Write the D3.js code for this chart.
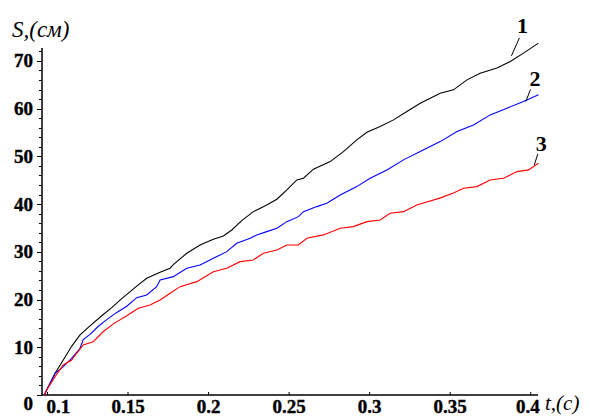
<!DOCTYPE html>
<html>
<head>
<meta charset="utf-8">
<script src="https://cdn.jsdelivr.net/npm/d3@7/dist/d3.min.js"></script>
<style>
  body { margin: 0; background: #fff; }
  svg { display: block; }
  .tick-label { font-family: "Liberation Serif", "Times New Roman", serif; font-weight: bold; font-size: 19px; fill: #000; stroke: #000; stroke-width: 0.4px; }
  .axis-title { font-family: "Liberation Serif", "Times New Roman", serif; font-style: italic; fill: #000; }
  .curve-label { font-family: "Liberation Serif", "Times New Roman", serif; font-weight: bold; font-size: 22px; fill: #000; }
</style>
</head>
<body>
<svg id="chart" width="590" height="417"></svg>
<script>
// curve 1 (black)
var t1 = [0.098, 0.0995, 0.1047, 0.1098, 0.115, 0.1202, 0.1264, 0.1337, 0.1399, 0.1461, 0.1554, 0.1616, 0.1699,
  0.1761, 0.1781, 0.1865, 0.1947, 0.203, 0.2092, 0.2144, 0.2206, 0.2278, 0.2361, 0.2424, 0.2486, 0.2548,
  0.2589, 0.2651, 0.2755, 0.2837, 0.292, 0.2983, 0.3065, 0.3148, 0.3231, 0.3314, 0.3438, 0.352, 0.3604,
  0.3686, 0.379, 0.3873, 0.3955, 0.4048];
var s1 = [0, 1.05, 4.55, 7.34, 10.2, 12.6, 14.5, 16.6, 18.3, 20.2, 22.8, 24.46, 25.7,
  26.56, 27.3, 29.7, 31.44, 32.63, 33.33, 34.58, 36.53, 38.42, 39.82, 41.02, 42.97, 45.06,
  45.42, 47.31, 48.9, 51.0, 53.45, 55.06, 56.24, 57.64, 59.38, 61.14, 63.24, 63.93, 66.02,
  67.43, 68.52, 69.86, 71.62, 73.72];

// curve 2 (blue)
var t2 = [0.098, 0.0995, 0.1047, 0.1098, 0.115, 0.1202, 0.1222, 0.1264, 0.1316, 0.1368, 0.143, 0.1492, 0.1554,
  0.1616, 0.1678, 0.1699, 0.1781, 0.1865, 0.1947, 0.203, 0.2113, 0.2175, 0.2258, 0.2299, 0.2361, 0.2424,
  0.2486, 0.2558, 0.2589, 0.2672, 0.2734, 0.2817, 0.292, 0.3003, 0.3107, 0.321, 0.3314, 0.3438, 0.3542,
  0.3645, 0.3748, 0.3852, 0.3955, 0.4048];
var s2 = [0, 1.05, 4.55, 5.93, 7.69, 9.79, 11.6, 12.7, 14.4, 15.8, 17.3, 18.6, 20.4,
  20.96, 22.7, 24.1, 24.8, 26.56, 27.25, 28.65, 30.04, 31.8, 32.84, 33.54, 34.23, 34.94,
  36.32, 37.37, 38.42, 39.47, 40.18, 41.92, 43.66, 45.42, 47.16, 49.26, 51.0, 53.09, 55.19,
  56.59, 58.69, 60.09, 61.48, 62.88];

// curve 3 (red)
var t3 = [0.098, 0.0995, 0.1047, 0.1098, 0.115, 0.1181, 0.1222, 0.1284, 0.1347, 0.1409, 0.1492, 0.1564, 0.1637,
  0.1699, 0.1761, 0.1823, 0.1927, 0.203, 0.2113, 0.2196, 0.2278, 0.234, 0.2424, 0.2486, 0.2558, 0.261,
  0.2713, 0.2817, 0.2899, 0.2983, 0.3065, 0.3127, 0.321, 0.3293, 0.344, 0.352, 0.3583, 0.3666, 0.3748,
  0.3831, 0.3915, 0.3986, 0.4048];
var s3 = [0, 1.05, 3.84, 6.29, 7.34, 8.74, 10.48, 11.17, 13.3, 14.9, 16.6, 18.17, 18.86,
  19.91, 21.32, 22.7, 23.75, 25.84, 26.56, 27.94, 28.3, 29.7, 30.39, 31.44, 31.44, 32.84,
  33.54, 34.94, 35.28, 36.32, 36.68, 38.08, 38.42, 39.82, 41.3, 42.3, 43.32, 43.66, 45.06,
  45.42, 46.8, 47.16, 48.56];

var xTicks = [0.1, 0.15, 0.2, 0.25, 0.3, 0.35, 0.4];
var yTicks = [0, 10, 20, 30, 40, 50, 60, 70];
var curveNames = ['1', '2', '3'];
var curveColors = ['#000000', '#0000ff', '#ff0000'];

var svg = d3.select('#chart');
var x = d3.scaleLinear().domain([0.0966, 0.4045]).range([42, 538]);
var y = d3.scaleLinear().domain([0, 72.7]).range([395, 48]);

var series = [d3.zip(t1, s1), d3.zip(t2, s2), d3.zip(t3, s3)];

// axes
svg.append('line')
  .attr('x1', x.range()[0]).attr('x2', x.range()[0])
  .attr('y1', y(0)).attr('y2', y.range()[1])
  .attr('stroke', '#000').attr('stroke-width', 1.5);
svg.append('line')
  .attr('x1', x.range()[0]).attr('x2', x.range()[1])
  .attr('y1', y(0)).attr('y2', y(0))
  .attr('stroke', '#000').attr('stroke-width', 1.5);

// y minor + major ticks
var minor = d3.range(0, 73, 2);
svg.selectAll('.ytick').data(minor).enter().append('line')
  .attr('x1', function(d) { return x.range()[0] - (d % 10 === 0 ? 5 : 3); })
  .attr('x2', x.range()[0])
  .attr('y1', function(d) { return Math.round(y(d)) + 0.5; })
  .attr('y2', function(d) { return Math.round(y(d)) + 0.5; })
  .attr('stroke', '#000').attr('stroke-width', 1);

svg.selectAll('.ylab').data(yTicks).enter().append('text')
  .attr('class', 'tick-label')
  .attr('text-anchor', 'end')
  .attr('x', 33)
  .attr('y', function(d) { return d === 0 ? y(d) + 15 : y(d) + 6.5; })
  .text(function(d) { return d; });

// x ticks
svg.selectAll('.xtick').data(xTicks).enter().append('line')
  .attr('x1', function(d) { return x(d); })
  .attr('x2', function(d) { return x(d); })
  .attr('y1', y(0)).attr('y2', y(0) - 3)
  .attr('stroke', '#000').attr('stroke-width', 1);

svg.selectAll('.xlab').data(xTicks).enter().append('text')
  .attr('class', 'tick-label')
  .attr('text-anchor', 'middle')
  .attr('x', function(d, i) { return x(d) + (i === 0 ? 11 : 0) + (i === xTicks.length - 1 ? -3 : 0); })
  .attr('y', 413)
  .text(function(d) { return d; });

// axis titles
svg.append('text').attr('class', 'axis-title')
  .attr('x', 12).attr('y', 37).style('font-size', '23px')
  .text('S,(см)');
svg.append('text').attr('class', 'axis-title')
  .attr('x', 545).attr('y', 410).style('font-size', '21px')
  .text('t,(с)');

// curves
var line = d3.line()
  .x(function(d) { return x(d[0]); })
  .y(function(d) { return y(d[1]); });

svg.selectAll('.curve').data(series).enter().append('path')
  .attr('d', line)
  .attr('fill', 'none')
  .attr('stroke', function(d, i) { return curveColors[i]; })
  .attr('stroke-width', 1.1);

// curve labels with leader lines
var tips = [[0.388, 71.05], [0.397, 61.5], [0.4022, 48.2]];
var offs = [[8, -18, 11, -23], [4.5, -12, 9, -15], [3.5, -11, 7, -14]];
tips.forEach(function(p, i) {
  var px = x(p[0]), py = y(p[1]);
  svg.append('line')
    .attr('x1', px).attr('y1', py)
    .attr('x2', px + offs[i][0]).attr('y2', py + offs[i][1])
    .attr('stroke', '#000').attr('stroke-width', 1);
  svg.append('text').attr('class', 'curve-label')
    .attr('text-anchor', 'middle')
    .attr('x', px + offs[i][2])
    .attr('y', py + offs[i][3])
    .text(curveNames[i]);
});
</script>
</body>
</html>
